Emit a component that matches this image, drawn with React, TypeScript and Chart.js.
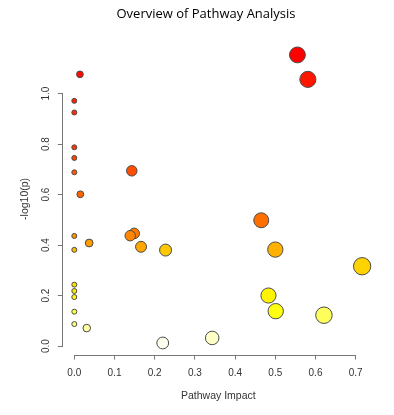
import { useEffect, useRef } from 'react';
import { Chart, registerables } from 'chart.js';

Chart.register(...registerables);

// Pathway impact (x) and -log10(p) (y), sorted by significance
const impact = [0.555, 0.014, 0.581, 0, 0, 0, 0, 0.143, 0, 0.015, 0.465, 0.149, 0.139, 0, 0.037, 0.166, 0.5, 0, 0.227, 0.716, 0, 0, 0.483, 0, 0.501, 0, 0.621, 0, 0.031, 0.343, 0.22];
const logP = [1.153, 1.076, 1.056, 0.971, 0.925, 0.787, 0.745, 0.694, 0.688, 0.601, 0.498, 0.446, 0.437, 0.436, 0.408, 0.393, 0.382, 0.381, 0.38, 0.316, 0.243, 0.218, 0.2, 0.194, 0.138, 0.136, 0.122, 0.087, 0.071, 0.032, 0.012];

const xTicks = [0, 0.1, 0.2, 0.3, 0.4, 0.5, 0.6, 0.7];
const yTicks = [0, 0.2, 0.4, 0.6, 0.8, 1.0];

const TITLE = 'Overview of Pathway Analysis';
const X_TITLE = 'Pathway Impact';
const Y_TITLE = '-log10(p)';

function hsv(h: number, s: number, v: number): string {
  const i = Math.floor(h * 6);
  const f = h * 6 - i;
  const p = v * (1 - s);
  const q = v * (1 - f * s);
  const t = v * (1 - (1 - f) * s);
  let r = 0, g = 0, b = 0;
  switch (((i % 6) + 6) % 6) {
    case 0: r = v; g = t; b = p; break;
    case 1: r = q; g = v; b = p; break;
    case 2: r = p; g = v; b = t; break;
    case 3: r = p; g = q; b = v; break;
    case 4: r = t; g = p; b = v; break;
    default: r = v; g = p; b = q;
  }
  const c = (x: number) => Math.round(x * 255);
  return `rgb(${c(r)},${c(g)},${c(b)})`;
}

// R's heat.colors(n)
function heatColors(n: number): string[] {
  const j = Math.floor(n / 4);
  const i = n - j;
  const out: string[] = [];
  for (let k = 0; k < i; k++) {
    const h = i > 1 ? (k / (i - 1)) * (1 / 6) : 0;
    out.push(hsv(h, 1, 1));
  }
  for (let k = 0; k < j; k++) {
    const s0 = 1 - 1 / (2 * j);
    const s1 = 1 / (2 * j);
    const s = j > 1 ? s0 + ((s1 - s0) * k) / (j - 1) : s0;
    out.push(hsv(1 / 6, s, 1));
  }
  return out;
}

const radiusFor = (ctx: any) => 2.5 + 7.3 * Math.sqrt(Math.abs(ctx.raw ? ctx.raw.x : 0));

const axisLines = {
  id: 'axisLines',
  afterDraw(chart: any) {
    const { ctx, chartArea, scales } = chart;
    const x = scales.x;
    const y = scales.y;
    ctx.save();
    ctx.strokeStyle = '#777';
    ctx.lineWidth = 1;
    ctx.beginPath();
    const yb = Math.round(chartArea.bottom) + 0.5;
    ctx.moveTo(x.getPixelForValue(xTicks[0]), yb);
    ctx.lineTo(x.getPixelForValue(xTicks[xTicks.length - 1]), yb);
    const xl = Math.round(chartArea.left) - 0.5;
    ctx.moveTo(xl, y.getPixelForValue(yTicks[0]));
    ctx.lineTo(xl, y.getPixelForValue(yTicks[yTicks.length - 1]));
    ctx.stroke();
    ctx.restore();
  },
};

export default function App() {
  const ref = useRef<HTMLCanvasElement>(null);

  useEffect(() => {
    if (!ref.current) return;
    const order = logP.map((v, i) => i).sort((a, b) => logP[b] - logP[a]);
    const heat = heatColors(logP.length);
    const colors: string[] = new Array(logP.length);
    order.forEach((idx, rank) => { colors[idx] = heat[rank]; });
    const points = impact.map((x, i) => ({ x, y: logP[i] }));

    const tickFont = { family: '"Liberation Sans", Arial, sans-serif', size: 10 };
    const titleFont = { family: '"Liberation Sans", Arial, sans-serif', size: 10.5, lineHeight: 1.2 };

    const chart = new Chart(ref.current, {
      type: 'scatter',
      data: {
        datasets: [{
          data: points,
          backgroundColor: colors,
          borderColor: '#4a4a4a',
          borderWidth: 1,
          pointRadius: radiusFor,
          pointHoverRadius: radiusFor,
          clip: false,
        } as any],
      },
      options: {
        animation: false,
        responsive: false,
        events: [],
        layout: { padding: { left: 38.2, right: 20.2, top: 0, bottom: 0 } },
        plugins: {
          legend: { display: false },
          tooltip: { enabled: false },
          title: {
            display: true,
            text: TITLE,
            color: '#000',
            font: { family: '"Open Sans", sans-serif', size: 13, weight: 'normal', lineHeight: 1.2 },
            padding: { top: 6.2, bottom: 21.5 },
          },
        },
        scales: {
          x: {
            type: 'linear',
            min: -0.0286,
            max: 0.745,
            afterBuildTicks: (s: any) => { s.ticks = xTicks.map((v) => ({ value: v })); },
            afterFit: (s: any) => { s.height = 60.5; },
            grid: { display: true, drawOnChartArea: false, drawTicks: true, tickLength: 5, color: '#777', lineWidth: 1 },
            border: { display: false },
            ticks: {
              autoSkip: false, maxRotation: 0, minRotation: 0, padding: 7.5,
              font: tickFont, color: '#333',
              callback: (v: any) => Number(v).toFixed(1),
            },
            title: { display: true, text: X_TITLE, color: '#333', font: titleFont, padding: { top: 0, bottom: 12.7 } },
          },
          y: {
            type: 'linear',
            min: -0.0336,
            max: 1.199,
            afterBuildTicks: (s: any) => { s.ticks = yTicks.map((v) => ({ value: v })); },
            afterFit: (s: any) => { s.width = 24.6; },
            grid: { display: true, drawOnChartArea: false, drawTicks: true, tickLength: 5, color: '#777', lineWidth: 1 },
            border: { display: false },
            ticks: {
              autoSkip: false, minRotation: 90, maxRotation: 90, crossAlign: 'center', padding: 5,
              font: tickFont, color: '#333',
              callback: (v: any) => Number(v).toFixed(1),
            },
            title: { display: true, text: Y_TITLE, color: '#333', font: titleFont, padding: { top: -19.5, bottom: 0 } },
          },
        },
      } as any,
      plugins: [axisLines],
    });
    return () => chart.destroy();
  }, []);

  return (
    <div style={{ position: 'fixed', left: 0, top: 0, width: 394, height: 415, background: '#fff' }}>
      <canvas ref={ref} width={394} height={415} style={{ display: 'block', width: 394, height: 415 }} />
    </div>
  );
}
